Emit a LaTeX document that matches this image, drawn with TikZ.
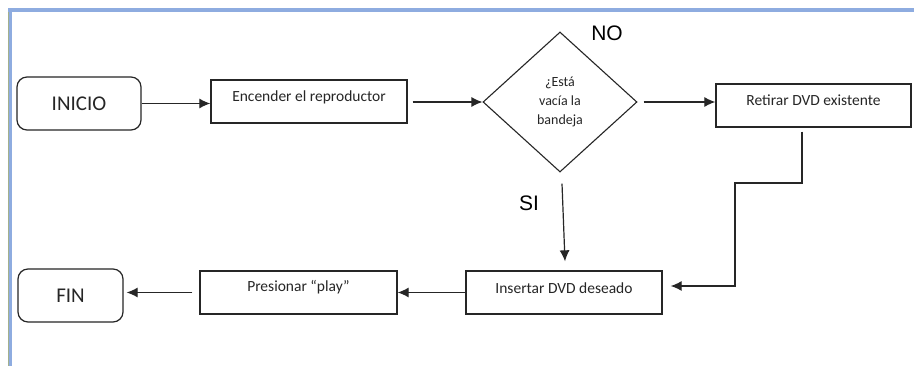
\documentclass[tikz,border=0pt]{standalone}
\usepackage{fontspec}
\setmainfont{Carlito}
\newfontfamily\arialfont{Liberation Sans}
\usetikzlibrary{shapes.geometric,arrows.meta,calc}
\definecolor{frameblue}{HTML}{8EACE0}
\definecolor{frameolive}{HTML}{A3B08C}
\definecolor{ink}{HTML}{262626}
\begin{document}
\begin{tikzpicture}[x=1pt,y=-1pt,
  terminal/.style={draw=ink,line width=1.2pt,rounded corners=10pt,minimum width=124pt,
    minimum height=53pt,inner sep=0pt,text=ink,font=\fontsize{21}{24}\selectfont},
  procbox/.style={draw=ink,line width=1.3pt,minimum width=196pt,minimum height=43pt,inner sep=0pt},
  boxtext/.style={inner sep=0pt,text=ink,font=\fontsize{15.5}{18}\selectfont},
  decision/.style={diamond,draw=ink,line width=1.1pt,minimum width=154pt,minimum height=140pt,
    inner sep=0pt,align=center,text=ink,font=\fontsize{14}{19}\selectfont},
  answer/.style={inner sep=0pt,text=black,font=\arialfont\fontsize{21}{24}\selectfont},
  flow/.style={draw=ink,line width=1.2pt,-{Latex[length=11pt,width=10pt]}}
]
% page area and frame
\useasboundingbox (0,0) rectangle (914,366);
\fill[white] (0,0) rectangle (914,366);
\fill[frameblue] (8,8) rectangle (914,12);
\fill[frameblue] (8,8) rectangle (12,366);
\fill[frameolive] (8,12) rectangle (9,366);

% top row
\node[terminal] (inicio) at (79,103.5) {INICIO};
\node[procbox] (enc) at (309,101.5) {};
\node[boxtext] (enc-t) at ([yshift=4.5pt]enc.center) {Encender el reproductor};
\node[decision] (dec) at (560,102) {¿Está\\vacía la\\bandeja};
\node[procbox,minimum width=195pt] (ret) at (813.5,105.5) {};
\node[boxtext] (ret-t) at ([yshift=5.5pt]ret.center) {Retirar DVD existente};

% bottom row
\node[procbox] (ins) at (564,292.5) {};
\node[boxtext] (ins-t) at ([yshift=4.5pt]ins.center) {Insertar DVD deseado};
\node[procbox,minimum width=197pt] (pre) at (298.5,292.5) {};
\node[boxtext] (pre-t) at ([yshift=5.5pt]pre.center) {Presionar “play”};
\node[terminal,minimum width=105pt] (fin) at (70.5,295.5) {FIN};

% answers of the decision
\node[answer] (no) at (607,33) {NO};
\node[answer] (si) at (529,203) {SI};

% connectors
\coordinate (turn) at (735,183);
\draw[flow] (inicio.east) -- (inicio.east -| enc.west);
\draw[flow] ([xshift=5pt]enc.east |- dec.west) -- (dec.west);
\draw[flow] ([xshift=6pt]dec.east) -- (dec.east -| ret.west);
\draw[flow] ($(ret.south)+(-11.5,4)$) |- (turn) |- ($(ins.east)+(8,-6.5)$);
\draw[flow] ($(dec.south)+(2,11)$) -- ($(ins.north)+(1,-9)$);
\draw[flow] (ins.west) -- (pre.east);
\draw[flow] ([xshift=-7pt]pre.west) -- ([xshift=3pt]fin.east |- pre.west);
\end{tikzpicture}
\end{document}
